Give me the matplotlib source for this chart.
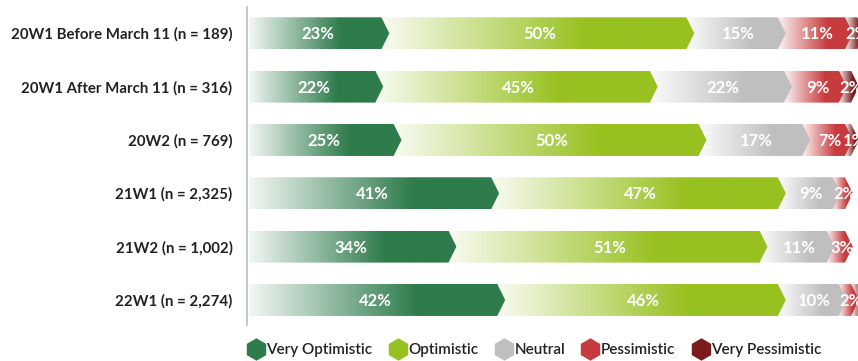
import numpy as np
import matplotlib
matplotlib.use("Agg")
import matplotlib.pyplot as plt
from matplotlib.colors import LinearSegmentedColormap
from matplotlib.patches import Polygon
from matplotlib.lines import Line2D

categories = ["20W1 Before March 11 (n = 189)", "20W1 After March 11 (n = 316)",
              "20W2 (n = 769)", "21W1 (n = 2,325)", "21W2 (n = 1,002)", "22W1 (n = 2,274)"]
series = ["Very Optimistic", "Optimistic", "Neutral", "Pessimistic", "Very Pessimistic"]
very_optimistic = [23, 22, 25, 41, 34, 42]
optimistic = [50, 45, 50, 47, 51, 46]
neutral = [15, 22, 17, 9, 11, 10]
pessimistic = [11, 9, 7, 2, 3, 2]
very_pessimistic = [2, 2, 1, 0, 0, 2]
colors = ["#2e7b4b", "#97c11f", "#c0bfc0", "#c73b3e", "#7a1c1c"]

values = [very_optimistic, optimistic, neutral, pessimistic, very_pessimistic]

plt.rcParams['font.family'] = ['Lato', 'DejaVu Sans']
fig = plt.figure(figsize=(8.58, 3.61), dpi=100)
ax = fig.add_axes([247 / 858, 1 - 325 / 361, 1 - 247 / 858, 318 / 361])

h = 0.6
tip = 1.3
xmax = 99.84
ramp = np.clip(0.06 + np.linspace(0, 1, 256) / 0.7, 0, 1).reshape(1, -1)

for i, cat in enumerate(categories):
    y = i
    starts = np.cumsum([0] + [v[i] for v in values[:-1]])
    for j in reversed(range(len(series))):
        v = values[j][i]
        if v <= 0:
            continue
        s = starts[j] - (tip if j > 0 else 0)
        e = starts[j] + v
        pts = [(s, y - h / 2), (e - tip, y - h / 2), (e, y), (e - tip, y + h / 2), (s, y + h / 2)]
        poly = Polygon(pts, closed=True, facecolor='none', edgecolor='none', zorder=10 - j)
        ax.add_patch(poly)
        cmap = LinearSegmentedColormap.from_list("g%d" % j, ["#ffffff", colors[j]])
        im = ax.imshow(ramp, cmap=cmap, vmin=0, vmax=1, aspect='auto',
                       extent=[s, e, y + h / 2, y - h / 2], zorder=10 - j,
                       interpolation='bilinear')
        im.set_clip_path(poly)
        cx = starts[j] + v / 2 - 0.3
        if cx < xmax + 0.6:
            ax.text(cx, y + 0.02, "%d%%" % v, color='white',
                    fontsize=12, fontweight='bold', ha='center', va='center',
                    zorder=20, clip_on=True)

ax.set_xlim(-0.33, xmax)
ax.set_ylim(5.47, -0.493)
ax.set_yticks(range(len(categories)))
ax.set_yticklabels(categories, fontsize=10.8, fontweight='bold', color='#222222')
ax.tick_params(axis='y', length=0, pad=10.5)
ax.set_xticks([])
for sp in ['top', 'right', 'bottom']:
    ax.spines[sp].set_visible(False)
ax.spines['left'].set_color('#bbbbbb')
ax.spines['left'].set_linewidth(1.2)

handles = [Line2D([], [], marker='h', linestyle='none', markersize=15,
                  markerfacecolor=c, markeredgecolor=c) for c in colors]
fig.legend(handles, series, loc='center', bbox_to_anchor=(0.622, 0.03), ncol=5,
           frameon=False, handletextpad=0.05, columnspacing=1.0,
           handlelength=1.3, labelcolor='#222222',
           prop={'family': 'Lato', 'size': 11, 'weight': 'semibold'})

fig.savefig("out.png", dpi=100)
